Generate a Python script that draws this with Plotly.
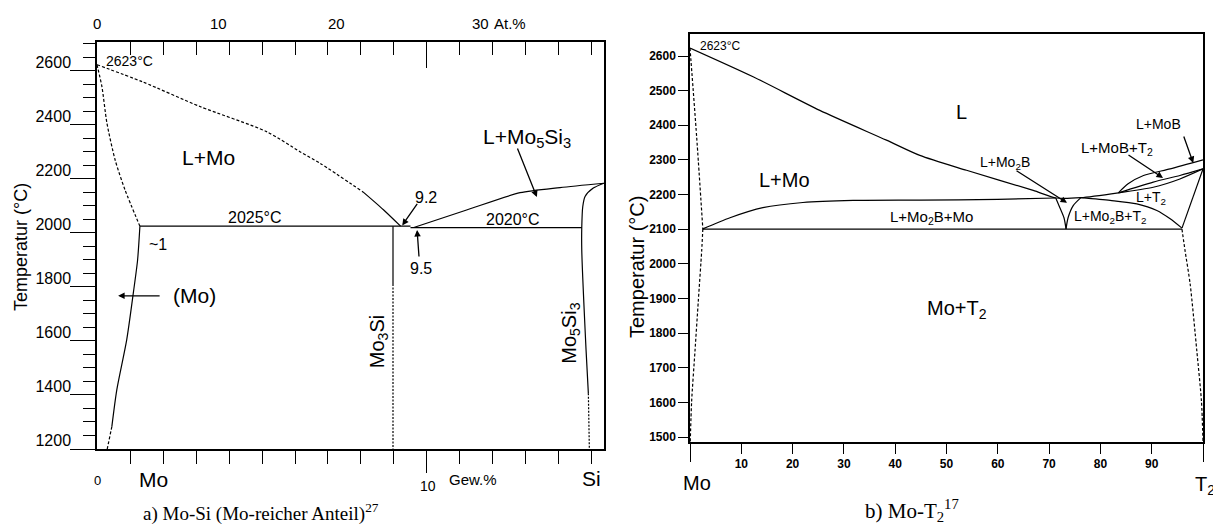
import plotly.graph_objects as go

# page body has an 8px margin: the figure is drawn 8px right / down
OFF = 8
W, H = 1221 - OFF, 526 - OFF
FONT = "Liberation Sans, Arial, sans-serif"
SERIF = "Liberation Serif, Times New Roman, serif"

# ---------------- a) Mo-Si  (x: Gew.% Si, y: Temperatur °C) ----------------
a_liq_dash_x = [0.0, 1.39, 3.12, 5.14, 6.15, 6.76, 8.06]
a_liq_dash_t = [2623, 2559, 2468, 2375, 2301, 2258, 2152]
a_liq_x = [8.06, 8.68, 9.2]
a_liq_t = [2152, 2086, 2025]
a_sol_x = [0.0, 0.15, 0.30, 0.55, 0.85, 1.30]
a_sol_t = [2623, 2541, 2407, 2270, 2159, 2025]
a_solv_x = [1.30, 1.23, 1.10, 0.90, 0.60, 0.45]
a_solv_t = [2025, 1900, 1777, 1604, 1419, 1283]
a_solv_dash_x = [0.45, 0.31]
a_solv_dash_t = [1283, 1200]
a_eut1_x = [1.30, 9.5]
a_eut1_t = [2025, 2025]
a_eut2_x = [9.5, 14.69]
a_eut2_t = [2020, 2020]
a_liq2_x = [9.6, 11.2, 12.82, 14.03, 15.36]
a_liq2_t = [2020, 2085, 2149, 2168, 2184]
a_m53_x = [15.36, 15.04, 14.79, 14.72, 14.69, 14.69, 14.82, 14.89]
a_m53_t = [2184, 2166, 2135, 2097, 2020, 1937, 1567, 1406]
a_m53_dash_x = [14.89, 14.92]
a_m53_dash_t = [1406, 1200]
a_m3si_x = [8.97, 8.97]
a_m3si_t = [2025, 1811]
a_m3si_dash_x = [8.97, 8.97]
a_m3si_dash_t = [1811, 1200]

a_xrange = [0, 15.364]
a_yrange = [1200, 2707]
a_top_labels = ["0", "10", "20", "30"]
a_top_pos = [0.0, 3.35, 6.95, 11.3]   # At.% labels placed at Gew.% positions

# ---------------- b) Mo-T2  (x: %, y: Temperatur °C) ----------------
b_liq_x = [0, 12.3, 25.3, 38.3, 44.8, 53.9, 66.9, 71.4, 76.2, 83.5]
b_liq_t = [2623, 2540, 2443, 2357, 2313, 2270, 2212, 2190, 2191, 2205]
b_sol_x = [0, 1.3, 2.5]
b_sol_t = [2623, 2366, 2101]
b_solv_x = [2.5, 2.28, 1.62, 0.97, 0.32, 0.05]
b_solv_t = [2101, 2038, 1893, 1748, 1603, 1487]
b_lmo_x = [2.5, 7.8, 14.2, 22.0, 31.8, 44.8, 60.0, 71.3]
b_lmo_t = [2101, 2133, 2162, 2177, 2183, 2184, 2186, 2190]
b_vl_x = [71.3, 72.1, 72.9, 73.3]
b_vl_t = [2190, 2162, 2133, 2101]
b_vr_x = [73.3, 73.7, 74.7, 76.2]
b_vr_t = [2101, 2133, 2168, 2191]
b_mt_x = [76.2, 81.9, 87.1, 91.0, 93.6, 95.9]
b_mt_t = [2191, 2183, 2173, 2154, 2130, 2103]
b_eut_x = [2.5, 95.9]
b_eut_t = [2100, 2100]
b_t2liq_x = [95.9, 98.1, 100]
b_t2liq_t = [2103, 2192, 2274]
b_t2solv_x = [95.9, 96.5, 97.5, 98.8, 99.7, 100]
b_t2solv_t = [2100, 2038, 1941, 1748, 1603, 1487]
b_mob_x = [83.5, 85.4, 88.4, 93.6, 100]
b_mob_t = [2205, 2231, 2255, 2274, 2300]
b_lensu_x = [83.5, 90.3, 95.5, 100]
b_lensu_t = [2205, 2236, 2255, 2274]
b_lensl_x = [83.5, 90.3, 95.5, 100]
b_lensl_t = [2205, 2221, 2245, 2274]

b_xrange = [0, 100]
b_yrange = [1485.6, 2663.5]
b_xticks = [10, 20, 30, 40, 50, 60, 70, 80, 90]

fig = go.Figure()


def line(x, y, xa, ya, dash=None, width=1.2, smooth=True):
    fig.add_trace(go.Scatter(x=x, y=y, mode="lines", xaxis=xa, yaxis=ya,
                             line=dict(color="black", width=width, dash=dash,
                                       shape="spline" if smooth else "linear",
                                       smoothing=0.7 if smooth else None),
                             hoverinfo="skip", showlegend=False))


DASH = "3px,2px"
DOT = "2px,1.5px"
# panel a
line(a_liq_dash_x, a_liq_dash_t, "x", "y", DASH)
line(a_liq_x, a_liq_t, "x", "y")
line(a_sol_x, a_sol_t, "x", "y", DASH)
line(a_solv_x, a_solv_t, "x", "y")
line(a_solv_dash_x, a_solv_dash_t, "x", "y", DASH, smooth=False)
line(a_eut1_x, a_eut1_t, "x", "y", smooth=False)
line(a_eut2_x, a_eut2_t, "x", "y", smooth=False)
line(a_liq2_x, a_liq2_t, "x", "y")
line(a_m53_x, a_m53_t, "x", "y")
line(a_m53_dash_x, a_m53_dash_t, "x", "y", DOT, smooth=False)
line(a_m3si_x, a_m3si_t, "x", "y", smooth=False)
line(a_m3si_dash_x, a_m3si_dash_t, "x", "y", DOT, smooth=False)
# invisible trace for top axis of panel a
fig.add_trace(go.Scatter(x=[], y=[], xaxis="x3", yaxis="y", showlegend=False))
# panel b
line(b_liq_x, b_liq_t, "x2", "y2")
line(b_sol_x, b_sol_t, "x2", "y2", DASH)
line(b_solv_x, b_solv_t, "x2", "y2", DASH)
line(b_lmo_x, b_lmo_t, "x2", "y2")
line(b_vl_x, b_vl_t, "x2", "y2")
line(b_vr_x, b_vr_t, "x2", "y2")
line(b_mt_x, b_mt_t, "x2", "y2")
line(b_eut_x, b_eut_t, "x2", "y2", smooth=False)
line(b_t2liq_x, b_t2liq_t, "x2", "y2", smooth=False)
line(b_t2solv_x, b_t2solv_t, "x2", "y2", DASH)
line(b_mob_x, b_mob_t, "x2", "y2")
line(b_lensu_x, b_lensu_t, "x2", "y2")
line(b_lensl_x, b_lensl_t, "x2", "y2")


def pxx(v):
    return (v - OFF) / W


def pxy(v):
    return 1 - (v - OFF) / H


ax_common = dict(showgrid=False, zeroline=False, showline=True, linecolor="black",
                 linewidth=1.5, tickcolor="black", tickwidth=1.2, automargin=False)
MINOR_A = [1, 2, 3, 4, 5, 6, 7, 8, 9, 11, 12, 13, 14, 15]

fig.update_layout(
    width=W, height=H, autosize=False,
    margin=dict(l=0, r=0, t=0, b=0, pad=0, autoexpand=False),
    paper_bgcolor="white", plot_bgcolor="white",
    font=dict(family=FONT, color="black"),
    xaxis=dict(domain=[pxx(97), pxx(604)], range=a_xrange, anchor="y", mirror=True,
               ticks="outside", tickmode="array", tickvals=[10], ticklen=22,
               showticklabels=False,
               minor=dict(tickmode="array", tickvals=MINOR_A,
                          ticks="outside", ticklen=13, tickcolor="black", tickwidth=1.2),
               **ax_common),
    xaxis3=dict(overlaying="x", side="top", anchor="y", range=a_xrange, automargin=False,
                showgrid=False, zeroline=False, showline=False,
                ticks="inside", tickmode="array", tickvals=[10], ticklen=26,
                tickcolor="black", tickwidth=1.2, showticklabels=False,
                minor=dict(tickmode="array", tickvals=MINOR_A,
                           ticks="inside", ticklen=13, tickcolor="black", tickwidth=1.2)),
    yaxis=dict(domain=[pxy(449), pxy(42)], range=a_yrange, anchor="x", mirror=True,
               ticks="outside", tickmode="linear", tick0=1200, dtick=200, ticklen=25,
               tickfont=dict(size=16, family=FONT), ticklabelshift=-9, ticklabelstandoff=-4,
               minor=dict(tickmode="linear", tick0=1200, dtick=50, ticks="outside", ticklen=12,
                          tickcolor="black", tickwidth=1.2),
               **ax_common),
    xaxis2=dict(domain=[pxx(690), pxx(1203)], range=b_xrange, anchor="y2", mirror=True,
                ticks="outside", tickmode="array", tickvals=b_xticks,
                ticktext=[str(v) for v in b_xticks], ticklen=10,
                tickfont=dict(size=12, family=FONT, weight="bold"),
                minor=dict(tickmode="array", tickvals=[0, 100], ticks="outside", ticklen=18,
                           tickcolor="black", tickwidth=1.2),
                **ax_common),
    yaxis2=dict(domain=[pxy(442), pxy(34)], range=b_yrange, anchor="x2", mirror=True,
                ticks="outside", tickmode="linear", tick0=1500, dtick=100, ticklen=10,
                tickfont=dict(size=12, family=FONT, weight="bold"),
                **ax_common),
)

anns = []


def txt(text, x, y, size, xref="paper", yref="paper", angle=0, family=FONT, xanchor="center"):
    anns.append(dict(text=text, x=x, y=y, xref=xref, yref=yref, showarrow=False,
                     font=dict(size=size, family=family, color="black"),
                     textangle=angle, xanchor=xanchor, yanchor="middle"))


def arrow(x, y, ax, ay, xref, yref):
    anns.append(dict(text="", x=x, y=y, xref=xref, yref=yref, ax=ax, ay=ay,
                     showarrow=True, arrowhead=2, arrowsize=1, arrowwidth=1.3,
                     arrowcolor="black", standoff=0))


# panel a in-plot labels (data coords)
txt("2623°C", 0.97, 2637, 14, "x", "y")
txt("L+Mo", 3.39, 2281, 21, "x", "y")
txt("2025°C", 4.79, 2059, 16, "x", "y")
txt("~1", 1.85, 1956, 16, "x", "y")
txt("2020°C", 12.6, 2048, 16, "x", "y")
txt("9.2", 9.97, 2130, 16, "x", "y")
txt("9.5", 9.82, 1870, 16, "x", "y")
txt("L+Mo<sub>5</sub>Si<sub>3</sub>", 13.03, 2352, 21, "x", "y")
txt("(Mo)", 2.94, 1767, 21, "x", "y")
txt("Mo<sub>3</sub>Si", 8.52, 1596, 20, "x", "y", angle=-90)
txt("Mo<sub>5</sub>Si<sub>3</sub>", 14.36, 1630, 20, "x", "y", angle=-90)
arrow(0.64, 1767, 43, 0, "x", "y")
arrow(9.25, 2028, 16, -23, "x", "y")
arrow(9.70, 2011, 2, 28, "x", "y")
arrow(13.33, 2133, -20, -50, "x", "y")

# panel a outer labels
for lab, pos in zip(a_top_labels, a_top_pos):
    txt(lab, pos, pxy(23), 15, "x", "paper", xanchor="left" if pos > 0 else "center")
txt("At.%", pxx(510), pxy(23), 15)
txt("0", pxx(97), pxy(480), 13)
txt("Mo", pxx(153), pxy(479), 21)
txt("10", pxx(428), pxy(486), 14)
txt("Gew.%", pxx(473), pxy(479), 15)
txt("Si", pxx(591), pxy(478), 21)
txt("Temperatur (°C)", pxx(21), pxy(247), 18, angle=-90)
txt("a) Mo-Si (Mo-reicher Anteil)<sup>27</sup>", pxx(261), pxy(512), 19, family=SERIF)

# panel b in-plot labels
txt("2623°C", 5.85, 2629, 12, "x2", "y2")
txt("L", 53.0, 2438, 20, "x2", "y2")
txt("L+Mo", 18.5, 2242, 20, "x2", "y2")
txt("L+Mo<sub>2</sub>B+Mo", 47.0, 2135, 15, "x2", "y2")
txt("L+Mo<sub>2</sub>B", 61.4, 2291, 14, "x2", "y2")
txt("L+Mo<sub>2</sub>B+T<sub>2</sub>", 81.9, 2135, 14, "x2", "y2")
txt("L+T<sub>2</sub>", 89.9, 2190, 14, "x2", "y2")
txt("L+MoB+T<sub>2</sub>", 83.2, 2334, 15, "x2", "y2")
txt("L+MoB", 91.4, 2404, 14, "x2", "y2")
txt("Mo+T<sub>2</sub>", 52.0, 1867, 20, "x2", "y2")
arrow(73.5, 2176, -52, -33, "x2", "y2")
arrow(92.2, 2248, -36, -24, "x2", "y2")
arrow(98.1, 2291, -10, -28, "x2", "y2")

# panel b outer labels
txt("Mo", pxx(697), pxy(483), 20)
txt("T<sub>2</sub>", pxx(1205), pxy(485), 20)
txt("Temperatur (°C)", pxx(637), pxy(267), 20, angle=-90)
txt("b) Mo-T<sub>2</sub><sup>17</sup>", pxx(912), pxy(510), 21, family=SERIF)

fig.update_layout(annotations=anns)
fig.write_html("out.html")
